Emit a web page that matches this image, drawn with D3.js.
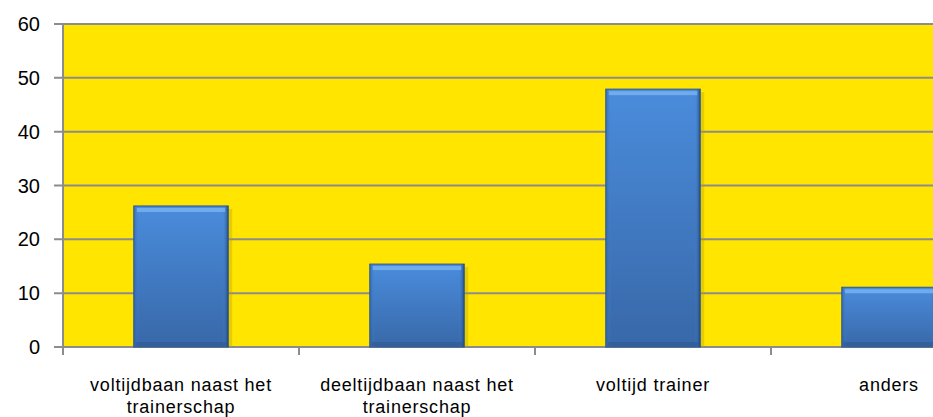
<!DOCTYPE html>
<html><head><meta charset="utf-8">
<script src="https://cdn.jsdelivr.net/npm/d3@7/dist/d3.min.js"></script>
<style>body{margin:0;background:#fff}svg{display:block}</style>
</head><body>
<svg id="c" width="933" height="417"></svg>
<script>
const categories = [["voltijdbaan naast het","trainerschap"],["deeltijdbaan naast het","trainerschap"],["voltijd trainer"],["anders"]];
const values = [26.2, 15.4, 47.9, 11.1];
const yTicks = [0,10,20,30,40,50,60];

const svg = d3.select("#c");
const m = {l:63, t:24, b:347, r:1007};
const x = d3.scaleBand().domain(d3.range(categories.length)).range([m.l, m.r]).paddingInner(0.6).paddingOuter(0.3);
const xb = d3.scaleBand().domain(d3.range(categories.length)).range([m.l, m.r]);
const y = d3.scaleLinear().domain([0,60]).range([m.b, m.t]);

const defs = svg.append("defs");
const g1 = defs.append("linearGradient").attr("id","bg").attr("x1",0).attr("y1",0).attr("x2",0).attr("y2",1);
g1.append("stop").attr("offset","0%").attr("stop-color","#4a8cdc");
g1.append("stop").attr("offset","100%").attr("stop-color","#3868a8");
const g2 = defs.append("linearGradient").attr("id","hg").attr("x1",0).attr("y1",0).attr("x2",1).attr("y2",0);
g2.append("stop").attr("offset","0%").attr("stop-color","#2a5a98").attr("stop-opacity",0.6);
g2.append("stop").attr("offset","6%").attr("stop-color","#4a8cdc").attr("stop-opacity",0);
g2.append("stop").attr("offset","94%").attr("stop-color","#4a8cdc").attr("stop-opacity",0);
g2.append("stop").attr("offset","100%").attr("stop-color","#1e3f6e").attr("stop-opacity",0.8);

svg.append("rect").attr("x",m.l).attr("y",m.t).attr("width",m.r-m.l).attr("height",m.b-m.t).attr("fill","#FFE500");

// gridlines
svg.append("g").selectAll("line").data(yTicks).join("line")
  .attr("x1",54).attr("x2",m.r).attr("y1",d=>y(d)).attr("y2",d=>y(d))
  .attr("stroke","#8c8c8c").attr("stroke-width",2);
// y axis line
svg.append("line").attr("x1",m.l).attr("x2",m.l).attr("y1",m.t).attr("y2",m.b+8).attr("stroke","#8c8c8c").attr("stroke-width",2);
// x ticks
svg.append("g").selectAll("line").data(d3.range(categories.length+1)).join("line")
  .attr("x1",d=>m.l+d*xb.step()).attr("x2",d=>m.l+d*xb.step()).attr("y1",m.b).attr("y2",m.b+8)
  .attr("stroke","#8c8c8c").attr("stroke-width",2);

// bars
const bars = svg.append("g").selectAll("g").data(values).join("g");
bars.append("rect").attr("x",(d,i)=>x(i)+4).attr("y",d=>y(d)+3).attr("width",x.bandwidth()).attr("height",d=>m.b-y(d)-3)
  .attr("fill","#b8a000").attr("opacity",0.35);
bars.append("rect").attr("x",(d,i)=>x(i)).attr("y",d=>y(d)).attr("width",x.bandwidth()).attr("height",d=>m.b-y(d))
  .attr("fill","url(#bg)").attr("stroke","#2d5590").attr("stroke-width",1);
bars.append("rect").attr("x",(d,i)=>x(i)).attr("y",d=>y(d)).attr("width",x.bandwidth()).attr("height",d=>m.b-y(d))
  .attr("fill","url(#hg)");
bars.append("rect").attr("x",(d,i)=>x(i)+3).attr("y",d=>y(d)+2).attr("width",x.bandwidth()-6).attr("height",4)
  .attr("fill","#7ab4f0").attr("opacity",0.8);
bars.append("rect").attr("x",(d,i)=>x(i)+2).attr("y",d=>m.b-5).attr("width",x.bandwidth()-4).attr("height",4)
  .attr("fill","#2c5590").attr("opacity",0.5);

// y labels
svg.append("g").selectAll("text").data(yTicks).join("text")
  .attr("x",40).attr("y",d=>y(d)+7).attr("text-anchor","end")
  .attr("font-family","Liberation Sans, Arial, sans-serif").attr("font-size",20).attr("fill","#000").text(d=>d);

// x labels
const xl = svg.append("g").selectAll("text").data(categories).join("text")
  .attr("text-anchor","middle").attr("font-family","Liberation Sans, Arial, sans-serif").attr("font-size",18)
  .attr("letter-spacing",0.8).attr("fill","#000")
  .attr("transform",(d,i)=>`translate(${xb(i)+xb.bandwidth()/2},391)`);
xl.selectAll("tspan").data(d=>d).join("tspan").attr("x",0).attr("dy",(d,j)=>j?22:0).text(d=>d);
</script>
</body></html>
